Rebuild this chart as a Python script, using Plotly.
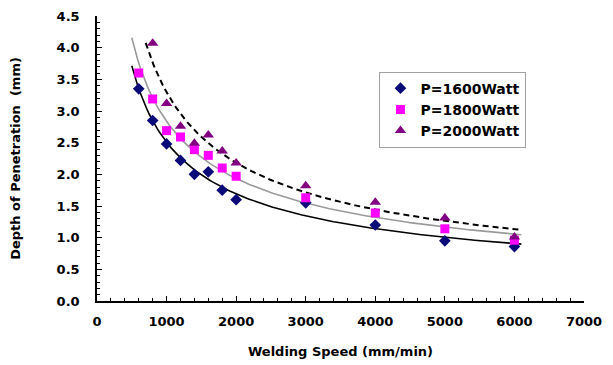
import numpy as np
import plotly.graph_objects as go

# ---- data ----
speed_1600 = [600, 800, 1000, 1200, 1400, 1600, 1800, 2000, 3000, 4000, 5000, 6000]
depth_1600 = [3.35, 2.85, 2.48, 2.22, 2.00, 2.04, 1.75, 1.60, 1.55, 1.20, 0.95, 0.86]

speed_1800 = [600, 800, 1000, 1200, 1400, 1600, 1800, 2000, 3000, 4000, 5000, 6000]
depth_1800 = [3.60, 3.19, 2.69, 2.59, 2.39, 2.30, 2.10, 1.97, 1.63, 1.39, 1.14, 0.96]

speed_2000 = [800, 1000, 1200, 1400, 1600, 1800, 2000, 3000, 4000, 5000, 6000]
depth_2000 = [4.07, 3.12, 2.76, 2.49, 2.62, 2.37, 2.18, 1.82, 1.56, 1.31, 1.01]

series_names = ["P=1600Watt", "P=1800Watt", "P=2000Watt"]
x_ticks = [0, 1000, 2000, 3000, 4000, 5000, 6000, 7000]
y_ticks = [0.0, 0.5, 1.0, 1.5, 2.0, 2.5, 3.0, 3.5, 4.0, 4.5]

FONT = dict(family="DejaVu Sans", size=13, color="black", weight="bold")


def power_trend(xs, ys, extend=100):
    """Power-law trendline (like a spreadsheet power trendline) fitted to the data."""
    b, log_a = np.polyfit(np.log(xs), np.log(ys), 1)
    xx = np.linspace(min(xs) - extend, max(xs) + extend, 200)
    return xx, np.exp(log_a) * xx ** b


fig = go.Figure()

# trendlines
for xs, ys, style in [
    (speed_1600, depth_1600, dict(color="black", width=1.6)),
    (speed_1800, depth_1800, dict(color="#9a9a9a", width=1.6)),
    (speed_2000, depth_2000, dict(color="black", width=2, dash="6px,4px")),
]:
    tx, ty = power_trend(xs, ys)
    fig.add_trace(go.Scatter(x=tx, y=ty, mode="lines", line=style,
                             showlegend=False, hoverinfo="skip"))

# data markers
fig.add_trace(go.Scatter(x=speed_1600, y=depth_1600, mode="markers", name=series_names[0],
                         marker=dict(symbol="diamond", size=9, color="#0a0a78")))
fig.add_trace(go.Scatter(x=speed_1800, y=depth_1800, mode="markers", name=series_names[1],
                         marker=dict(symbol="square", size=9, color="#ff00ff")))
fig.add_trace(go.Scatter(x=speed_2000, y=depth_2000, mode="markers", name=series_names[2],
                         marker=dict(symbol="triangle-up", size=10, color="#800080")))

axis_common = dict(
    showgrid=False, zeroline=False, showline=True, linecolor="black", linewidth=1.5,
    ticks="inside", ticklen=5, tickwidth=1.2, tickcolor="black",
    tickfont=FONT, mirror=False, automargin=False,
)

fig.update_xaxes(
    **axis_common, range=[0, 7000], tickvals=x_ticks, ticktext=[str(v) for v in x_ticks],
    minor=dict(dtick=200, ticks="inside", ticklen=3, tickcolor="black", tickwidth=1),
    ticklabelstandoff=8,
    title=dict(text="Welding Speed (mm/min)", font=FONT, standoff=19),
)
fig.update_yaxes(
    **axis_common, range=[0, 4.5], tickvals=y_ticks, ticktext=[f"{v:.1f}" for v in y_ticks],
    minor=dict(dtick=0.1, ticks="inside", ticklen=3, tickcolor="black", tickwidth=1),
    ticklabelstandoff=13,
    title=dict(text="Depth of Penetration  (mm)", font=FONT, standoff=34),
)

# the page body adds an 8px offset, so the figure is sized/margined to compensate
fig.update_layout(
    width=605, height=357,
    margin=dict(l=89, r=29, t=8, b=64),
    paper_bgcolor="white", plot_bgcolor="white",
    font=FONT,
    legend=dict(x=0.58, y=0.805, xanchor="left", yanchor="top",
                bgcolor="white", bordercolor="#a0a0a0", borderwidth=1,
                font=dict(family="DejaVu Sans", size=14, color="black", weight="bold"),
                itemwidth=30, tracegroupgap=0),
    showlegend=True,
)

fig.write_html("out.html")
